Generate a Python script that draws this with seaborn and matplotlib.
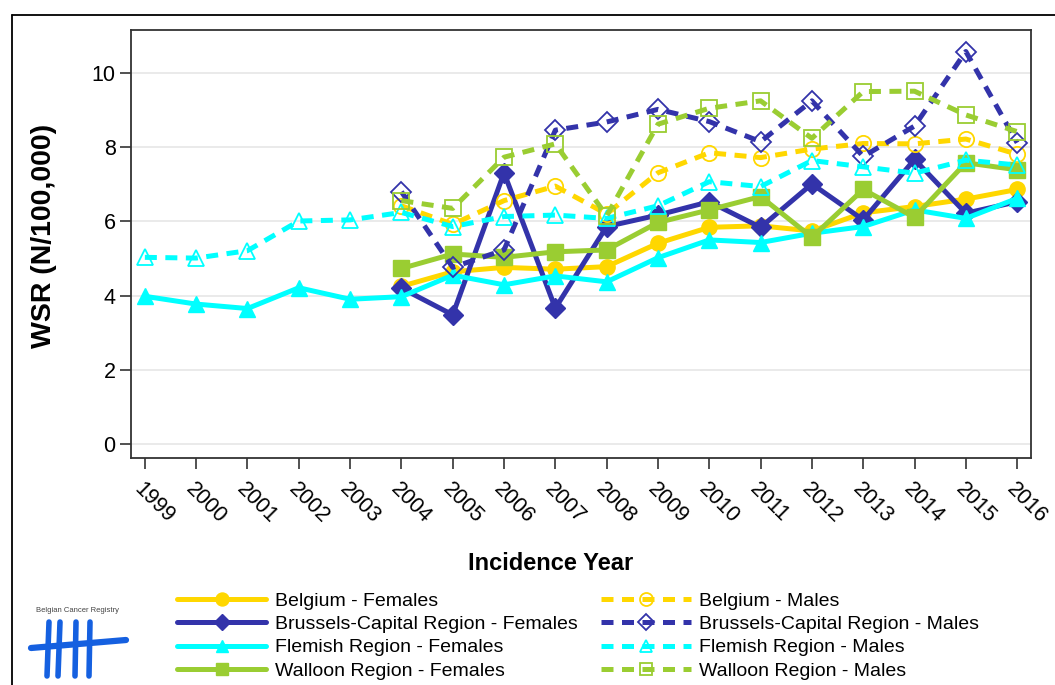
import matplotlib
matplotlib.use("Agg")
import pandas as pd
import seaborn as sns
import matplotlib.pyplot as plt
from matplotlib.lines import Line2D

# data
years_all = list(range(1999, 2017))
years_04 = list(range(2004, 2017))

belgium_f = [4.25, 4.64, 4.76, 4.71, 4.78, 5.41, 5.84, 5.88, 5.74, 6.23, 6.40, 6.60, 6.86]
brussels_f = [4.20, 3.48, 7.31, 3.66, 5.86, 6.17, 6.53, 5.84, 7.01, 6.04, 7.67, 6.22, 6.53]
flemish_f = [3.98, 3.77, 3.65, 4.21, 3.90, 3.97, 4.55, 4.29, 4.53, 4.37, 5.02, 5.50,
             5.43, 5.68, 5.86, 6.31, 6.08, 6.62]
walloon_f = [4.73, 5.12, 5.03, 5.18, 5.23, 5.97, 6.31, 6.67, 5.57, 6.86, 6.11, 7.58, 7.39]

belgium_m = [6.42, 5.92, 6.56, 6.95, 6.20, 7.31, 7.85, 7.72, 7.95, 8.10, 8.09, 8.22, 7.81]
brussels_m = [6.80, 4.76, 5.23, 8.46, 8.68, 9.02, 8.69, 8.15, 9.25, 7.75, 8.57, 10.58, 8.12]
flemish_m = [5.03, 5.01, 5.21, 6.01, 6.04, 6.24, 5.86, 6.13, 6.17, 6.08, 6.42, 7.07,
             6.94, 7.64, 7.47, 7.30, 7.65, 7.52]
walloon_m = [6.56, 6.35, 7.73, 8.09, 6.15, 8.62, 9.05, 9.25, 8.24, 9.50, 9.51, 8.87, 8.42]

labels = ["Belgium - Females", "Brussels-Capital Region - Females",
          "Flemish Region - Females", "Walloon Region - Females",
          "Belgium - Males", "Brussels-Capital Region - Males",
          "Flemish Region - Males", "Walloon Region - Males"]
values = [belgium_f, brussels_f, flemish_f, walloon_f,
          belgium_m, brussels_m, flemish_m, walloon_m]
year_sets = [years_04, years_04, years_all, years_04,
             years_04, years_04, years_all, years_04]

# styles
colors = ["#FFD700", "#3333AA", "#00FFFF", "#9ACD32"] * 2
markers = ["o", "D", "^", "s"] * 2
filled = [True] * 4 + [False] * 4

frames = []
for lab, yrs, vals in zip(labels, year_sets, values):
    frames.append(pd.DataFrame({"year": yrs, "wsr": vals, "series": lab}))
df = pd.concat(frames, ignore_index=True)

sns.set_style("white")
plt.rcParams["font.family"] = ["Liberation Sans", "DejaVu Sans"]
plt.rcParams["text.color"] = "black"
plt.rcParams["axes.labelcolor"] = "black"
plt.rcParams["xtick.color"] = "black"
plt.rcParams["ytick.color"] = "black"

fig = plt.figure(figsize=(10.55, 6.85), dpi=100)
ax = fig.add_axes([131 / 1055, 1 - 458 / 685, 900 / 1055, 428 / 685])

for i, lab in enumerate(labels):
    sub = df[df["series"] == lab]
    if filled[i]:
        ls = "-"
        mfc = colors[i]
        mew = 1.0
    else:
        ls = (0, (2.4, 1.7))
        mfc = "none"
        mew = 1.3
    ms = 11 if markers[i] != "D" else 10
    sns.lineplot(data=sub, x="year", y="wsr", ax=ax, errorbar=None,
                 color=colors[i], linestyle=ls, linewidth=3.6,
                 marker=markers[i], markersize=ms, markerfacecolor=mfc,
                 markeredgecolor=colors[i], markeredgewidth=mew, label=lab)

ax.set_xlim(1998.73, 2016.27)
ax.set_ylim(-0.38, 11.16)
ax.set_yticks([0, 2, 4, 6, 8, 10])
ax.set_xticks(years_all)
ax.set_xticklabels([str(y) for y in years_all], rotation=-45, ha="left",
                   va="top", rotation_mode="anchor")
ax.grid(axis="y", color="#E8E8E8", linewidth=1.3)
ax.grid(axis="x", visible=False)
ax.set_axisbelow(True)
for sp in ax.spines.values():
    sp.set_color("#333333")
    sp.set_linewidth(1.3)
    sp.set_visible(True)
ax.tick_params(axis="both", which="major", direction="out", length=8, width=1.2,
               color="#333333", labelcolor="black", labelsize=15.5, bottom=True, left=True)
ax.tick_params(axis="x", pad=7)
ax.tick_params(axis="y", pad=3)

ax.set_xlabel("Incidence Year", fontsize=17, fontweight="bold")
ax.set_ylabel("WSR (N/100,000)", fontsize=20.5, fontweight="bold")
ax.xaxis.set_label_coords(0.466, -0.247)
ax.xaxis.label.set_va("center")
ax.yaxis.set_label_coords(-0.097, 0.52)
ax.yaxis.label.set_va("center")

handles, labs = ax.get_legend_handles_labels()
ax.legend(handles, labs, ncol=2, loc="upper left", frameon=False,
          bbox_to_anchor=(177 / 1055, 1 - 592 / 685), bbox_transform=fig.transFigure,
          borderpad=0, borderaxespad=0, fontsize=14, handlelength=4.6,
          handletextpad=0.45, labelspacing=0.3, columnspacing=1.2, markerscale=0.85)

# outer frame
fig.add_artist(Line2D([12 / 1055, 1.0], [1 - 15 / 685, 1 - 15 / 685],
                      transform=fig.transFigure, color="black", linewidth=1.3))
fig.add_artist(Line2D([12 / 1055, 12 / 1055], [1 - 15 / 685, 0.0],
                      transform=fig.transFigure, color="black", linewidth=1.3))

# logo
fig.text(78 / 1055, 1 - 611 / 685, "Belgian Cancer Registry", fontsize=5.5,
         color="#444444", ha="center", va="center")
logo_blue = "#1560E0"
for x0, x1 in [(49, 47), (60, 58), (76, 75), (90, 89)]:
    fig.add_artist(Line2D([x0 / 1055, x1 / 1055], [1 - 622 / 685, 1 - 676 / 685],
                          transform=fig.transFigure, color=logo_blue, linewidth=4,
                          solid_capstyle="round"))
fig.add_artist(Line2D([31 / 1055, 126 / 1055], [1 - 648 / 685, 1 - 640 / 685],
                      transform=fig.transFigure, color=logo_blue, linewidth=4.5,
                      solid_capstyle="round"))

fig.savefig("out.png", dpi=100)
